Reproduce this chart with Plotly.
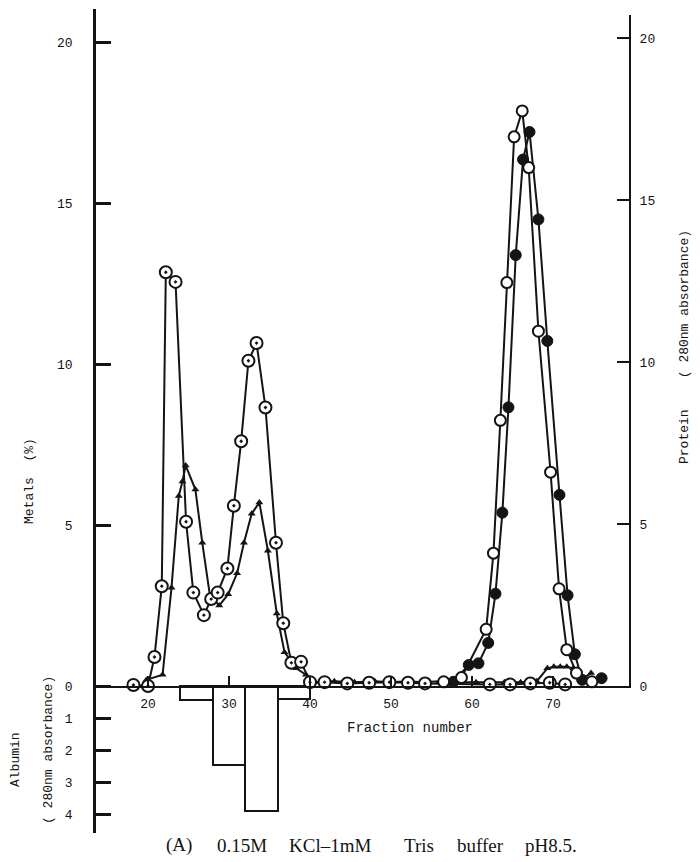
import plotly.graph_objects as go

# ---------------- data ----------------
# Metal A (dotted circles)
frac_a = [18.2, 20.0, 20.8, 21.7, 22.2, 23.4, 24.7, 25.6, 26.9, 27.8, 28.6, 29.8, 30.6,
          31.5, 32.4, 33.4, 34.5, 35.8, 36.7, 37.7, 38.9, 40.0, 41.8, 44.6, 47.3, 49.8,
          52.1, 54.2, 62.2, 64.7, 67.2, 69.6, 71.5]
metal_a = [0.03, 0.0, 0.9, 3.1, 12.85, 12.55, 5.1, 2.9, 2.2, 2.7, 2.9, 3.65, 5.6,
           7.6, 10.1, 10.65, 8.65, 4.45, 1.95, 0.72, 0.75, 0.12, 0.12, 0.08, 0.1, 0.12,
           0.1, 0.08, 0.05, 0.05, 0.08, 0.1, 0.05]

# Metal B (triangles)
frac_b = [19.8, 21.8, 22.9, 23.8, 24.25, 24.65, 25.85, 26.7, 27.65, 28.8, 29.9, 31.0,
          31.85, 32.8, 33.75, 34.8, 35.9, 36.85, 38.3, 39.5, 40.5, 43.0, 45.5, 48.0,
          50.0, 52.0, 54.0, 56.0, 58.5, 60.5, 62.5, 64.0, 66.0, 68.0, 69.3, 70.1, 70.9,
          71.7, 72.5, 73.5, 74.7]
metal_b = [0.19, 0.35, 3.05, 5.9, 6.35, 6.85, 6.1, 4.45, 2.8, 2.5, 2.85, 3.5,
           4.45, 5.35, 5.7, 4.2, 2.25, 1.05, 0.55, 0.35, 0.12, 0.15, 0.12, 0.15,
           0.12, 0.15, 0.12, 0.15, 0.12, 0.12, 0.12, 0.12, 0.12, 0.15, 0.55, 0.6, 0.6,
           0.6, 0.55, 0.2, 0.4]

# Protein, open circles
frac_open = [56.5, 58.7, 61.75, 62.65, 63.5, 64.3, 65.2, 66.2, 67.0, 68.2, 69.7, 70.75,
             71.7, 72.9, 74.8]
prot_open = [0.13, 0.26, 1.75, 4.1, 8.2, 12.45, 16.95, 17.75, 16.0, 10.95, 6.6, 3.0,
             1.12, 0.4, 0.13]

# Protein, filled circles
frac_fill = [57.7, 59.6, 60.8, 62.0, 62.9, 63.75, 64.5, 65.4, 66.3, 67.1, 68.2, 69.3,
             70.8, 71.8, 72.7, 73.6, 76.0]
prot_fill = [0.13, 0.65, 0.7, 1.33, 2.85, 5.35, 8.6, 13.3, 16.25, 17.1, 14.4, 10.65,
             5.9, 2.8, 0.98, 0.19, 0.24]

# Albumin (280nm absorbance), pooled fractions
alb_center = [26, 30, 34, 38]
alb_width = [4, 4, 4, 4]
alb_value = [0.43, 2.45, 3.88, 0.4]

metal_ticks = [0, 5, 10, 15, 20]
alb_ticks = [1, 2, 3, 4]
prot_ticks = [0, 5, 10, 15, 20]
frac_ticks = [20, 30, 40, 50, 60, 70]

# ---------------- layout geometry (page pixels) ----------------
W, H = 700, 862
OFF = 8                      # default body margin of the html page
PL, PR, PT, PB = 96, 629, 9, 833


def px(x):
    return (x - PL) / (PR - PL)


def py(y):
    return (PB - y) / (PB - PT)


INK = "#141414"
MONO = "Liberation Mono, Courier New, monospace"
SERIF = "Liberation Serif, Times New Roman, serif"

fig = go.Figure()

fig.add_trace(go.Bar(
    x=alb_center, y=[-v for v in alb_value], width=alb_width,
    marker=dict(color="white", line=dict(color=INK, width=2)),
    xaxis="x", yaxis="y", showlegend=False,
))

fig.add_trace(go.Scatter(
    x=frac_b, y=metal_b, mode="lines+markers", xaxis="x", yaxis="y",
    line=dict(color=INK, width=2),
    marker=dict(symbol="triangle-up", size=7, color=INK),
    cliponaxis=False, showlegend=False,
))
fig.add_trace(go.Scatter(
    x=frac_a, y=metal_a, mode="lines+markers", xaxis="x", yaxis="y",
    line=dict(color=INK, width=2),
    marker=dict(symbol="circle-dot", size=12, color="white",
                line=dict(color=INK, width=2)),
    cliponaxis=False, showlegend=False,
))
fig.add_trace(go.Scatter(
    x=frac_fill, y=prot_fill, mode="lines+markers", xaxis="x", yaxis="y2",
    line=dict(color=INK, width=2),
    marker=dict(symbol="circle", size=11, color=INK,
                line=dict(color=INK, width=1)),
    cliponaxis=False, showlegend=False,
))
fig.add_trace(go.Scatter(
    x=frac_open, y=prot_open, mode="lines+markers", xaxis="x", yaxis="y2",
    line=dict(color=INK, width=2),
    marker=dict(symbol="circle", size=11, color="white",
                line=dict(color=INK, width=2)),
    cliponaxis=False, showlegend=False,
))

y_lo = (686 - PB) / 32.2
y_hi = (686 - PT) / 32.2
y2_top_px = 15
y2_hi = (686 - y2_top_px) / 32.4

fig.update_layout(
    width=W - OFF, height=H - OFF,
    margin=dict(l=PL - OFF, r=W - PR, t=PT - OFF, b=H - PB, autoexpand=False),
    paper_bgcolor="white", plot_bgcolor="rgba(0,0,0,0)",
    template="none",
    bargap=0,
    xaxis=dict(
        range=[20 + (PL - 148) / 8.1, 20 + (PR - 148) / 8.1],
        anchor="y2", showline=True, linecolor=INK, linewidth=2,
        showgrid=False, zeroline=False, automargin=False,
        tickvals=frac_ticks, ticktext=[str(v) for v in frac_ticks],
        ticks="inside", ticklen=10, tickwidth=2, tickcolor=INK,
        ticklabelstandoff=4,
        tickfont=dict(family=MONO, size=13, color=INK),
    ),
    yaxis=dict(
        range=[y_lo, y_hi], domain=[0, 1], anchor="x",
        showline=True, linecolor=INK, linewidth=2.5,
        showgrid=False, zeroline=False, automargin=False,
        tickvals=[-v for v in alb_ticks] + metal_ticks,
        ticktext=[str(v) for v in alb_ticks] + [str(v) for v in metal_ticks],
        ticks="inside", ticklen=15, tickwidth=3, tickcolor=INK,
        ticklabelstandoff=18,
        tickfont=dict(family=MONO, size=13, color=INK),
    ),
    yaxis2=dict(
        range=[0, y2_hi], domain=[py(686), py(y2_top_px)], anchor="x",
        side="right", showline=True, linecolor=INK, linewidth=2,
        showgrid=False, zeroline=False, automargin=False,
        tickvals=prot_ticks, ticktext=[str(v) for v in prot_ticks],
        ticks="inside", ticklen=12, tickwidth=2, tickcolor=INK,
        ticklabelstandoff=6,
        tickfont=dict(family=MONO, size=13, color=INK),
    ),
)

ann = []


def label(x, y, text, size=13, angle=0, family=MONO, xanchor="center"):
    ann.append(dict(x=px(x), y=py(y), xref="paper", yref="paper", text=text,
                    showarrow=False, textangle=angle, xanchor=xanchor,
                    yanchor="middle", font=dict(family=family, size=size, color=INK)))


label(29, 481, "Metals  (%)", angle=-90)
label(15, 760, "Albumin", angle=-90)
label(48, 750, "( 280nm absorbance)", angle=-90)
label(684, 347, "Protein    ( 280nm absorbance)", angle=-90)
label(410, 728, "Fraction number", size=14)

caption_words = ["(A)", "0.15M", "KCl–1mM", "Tris", "buffer", "pH8.5."]
caption_x = [179, 242, 330, 419, 480, 551]
for w, cx in zip(caption_words, caption_x):
    label(cx, 845, w, size=19, family=SERIF)

fig.update_layout(annotations=ann)

fig.write_html("out.html")
